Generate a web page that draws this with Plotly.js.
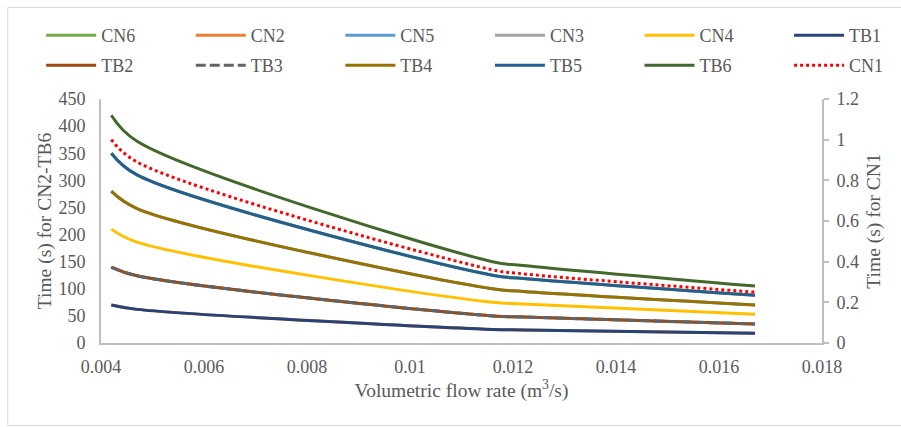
<!DOCTYPE html>
<html>
<head>
<meta charset="utf-8">
<script src="https://cdn.plot.ly/plotly-3.0.1.min.js"></script>
<style>
  html, body { margin: 0; padding: 0; background: #ffffff; }
  #chart { width: 901px; height: 427px; }
</style>
</head>
<body>
<div id="chart"></div>
<script>
// Volumetric flow rate (m3/s)
const flow = [0.0042, 0.0047, 0.0116, 0.0122, 0.0167];

// Time (s), left axis
const CN6 = [350, 310, 125, 119, 88];
const CN2 = [70, 62, 25, 24, 18];
const CN5 = [280, 248, 100, 95, 70];
const CN3 = [140, 124, 50, 48, 35];
const CN4 = [210, 186, 75, 72, 53];
const TB1 = [70, 62, 25, 24, 18];
const TB2 = [140, 124, 50, 48, 35];
const TB3 = [140, 124, 50, 48, 35];
const TB4 = [280, 248, 100, 95, 70];
const TB5 = [350, 310, 125, 119, 88];
const TB6 = [420, 372, 150, 143, 105];

// Time (s), right axis
const CN1 = [1.0, 0.89, 0.36, 0.34, 0.25];

const names = ['CN6','CN2','CN5','CN3','CN4','TB1','TB2','TB3','TB4','TB5','TB6','CN1'];
const series = [CN6, CN2, CN5, CN3, CN4, TB1, TB2, TB3, TB4, TB5, TB6, CN1];
const colors = ['#70AD47','#ED7D31','#5B9BD5','#A5A5A5','#FFC000','#264478',
                '#9E480E','#636363','#997300','#255E91','#43682B','#FF0000'];
const dashes = ['solid','solid','solid','solid','solid','solid',
                'solid','10px,4px','solid','solid','solid','dot'];

const fontFam = '"Liberation Serif", "Times New Roman", serif';
const txt = '#595959';
const axisCol = '#BFBFBF';

// plot area in px: left 101, right 824, top 99, bottom 343
const L = 101, R = 824, T = 99, B = 343, W = 901, H = 427;
const px2x = p => (p - L) / (R - L);
const px2y = p => (B - p) / (B - T);

const legendKey = i => (i === 0 ? 'legend' : 'legend' + (i + 1));

const traces = names.map((n, i) => ({
  type: 'scatter',
  mode: 'lines',
  name: n,
  x: flow,
  y: series[i],
  yaxis: n === 'CN1' ? 'y2' : 'y',
  legend: legendKey(i),
  line: { color: colors[i], width: 3, dash: dashes[i], shape: 'spline', smoothing: 1 },
  hoverinfo: 'x+y+name'
}));

function legendAt(xpx, ypx) {
  return {
    x: px2x(xpx), xanchor: 'left',
    y: px2y(ypx), yanchor: 'top',
    itemwidth: 50,
    font: { family: fontFam, size: 18, color: txt },
    bgcolor: 'rgba(0,0,0,0)',
    borderwidth: 0
  };
}

const layout = {
  width: W, height: H,
  margin: { l: L, r: W - R, t: T, b: H - B, pad: 0 },
  paper_bgcolor: '#ffffff',
  plot_bgcolor: '#ffffff',
  font: { family: fontFam, size: 18, color: txt },
  showlegend: true,
  xaxis: {
    range: [0.004, 0.018],
    tick0: 0.004, dtick: 0.002,
    showgrid: false, zeroline: false,
    showline: true, linecolor: axisCol, linewidth: 2,
    ticks: 'outside', ticklen: 6, tickcolor: 'rgba(0,0,0,0)',
    tickfont: { family: fontFam, size: 18, color: txt },
    title: { text: 'Volumetric flow rate (m<sup>3</sup>/s)', font: { family: fontFam, size: 19.5, color: txt }, standoff: 8 }
  },
  yaxis: {
    range: [0, 450], dtick: 50,
    showgrid: false, zeroline: false,
    showline: true, linecolor: axisCol, linewidth: 2,
    ticks: 'outside', ticklen: 10, tickcolor: 'rgba(0,0,0,0)',
    tickfont: { family: fontFam, size: 18, color: txt },
    title: { text: 'Time (s) for CN2-TB6', font: { family: fontFam, size: 19.5, color: txt }, standoff: 2 }
  },
  yaxis2: {
    overlaying: 'y', side: 'right',
    range: [0, 1.2], dtick: 0.2,
    showgrid: false, zeroline: false,
    showline: true, linecolor: axisCol, linewidth: 2,
    ticks: 'outside', ticklen: 5, tickwidth: 2, tickcolor: axisCol,
    ticklabelstandoff: 4,
    tickfont: { family: fontFam, size: 18, color: txt },
    title: { text: 'Time (s) for CN1', font: { family: fontFam, size: 19.5, color: txt }, standoff: 8 }
  },
  shapes: [{
    type: 'rect', xref: 'paper', yref: 'paper', layer: 'below',
    x0: px2x(7.5), x1: px2x(905), y0: px2y(425.5), y1: px2y(7.5),
    line: { color: '#D9D9D9', width: 1 }, fillcolor: 'rgba(0,0,0,0)'
  }]
};

// 12 single-entry legends laid out as a 6 x 2 grid
names.forEach((n, i) => {
  const col = i % 6, row = Math.floor(i / 6);
  layout[legendKey(i)] = legendAt(41 + col * 150, 17 + row * 30);
});

Plotly.newPlot('chart', traces, layout, { displayModeBar: false, staticPlot: true });
</script>
</body>
</html>
